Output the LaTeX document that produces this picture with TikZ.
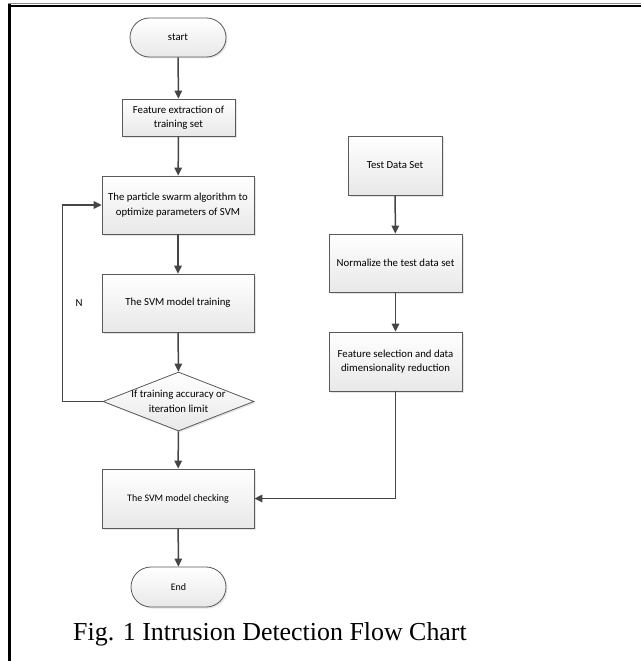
\documentclass[tikz,border=0pt]{standalone}
\usepackage{fontspec}
\setmainfont{Carlito}
\newfontfamily\capfont{Liberation Serif}
\usetikzlibrary{shapes.geometric,shadows,arrows.meta}
\definecolor{edgegray}{HTML}{5A5A5A}
\definecolor{arrowgray}{HTML}{454545}
\begin{document}
\begin{tikzpicture}[x=1bp,y=-1bp,
  boxbase/.style={draw=edgegray, line width=0.8bp, top color=white, bottom color=black!9,
     drop shadow={opacity=0.2, shadow xshift=1.5bp, shadow yshift=-1.5bp},
     align=center, inner sep=2bp, font=\fontsize{10.8}{14.5}\selectfont},
  procbox/.style={boxbase, rectangle},
  termbox/.style={boxbase, rectangle, rounded corners=19.5bp, minimum width=96bp, minimum height=39bp},
  decbox/.style={boxbase, diamond, inner sep=0bp, minimum width=151bp, minimum height=59bp},
  txt/.style={align=center, inner sep=0bp, font=\fontsize{10.8}{14.5}\selectfont},
  flow/.style={draw=arrowgray, line width=1.5bp, -{Triangle[length=8bp,width=7.5bp]}}
]
\useasboundingbox (0,0) rectangle (641,661);
\fill[white] (0,0) rectangle (641,661);
% frame
\draw[black!45, line width=1bp] (8,4) -- (641,4);
\draw[black, line width=1.8bp] (8,5.8) -- (641,5.8);
\draw[black, line width=3bp] (9.5,4) -- (9.5,661);

\node[termbox] (start) at (178,37.5) {start};
\node[procbox, minimum width=113bp, minimum height=37bp] (fe) at (178.5,117.5) {Feature extraction of\\training set};
\node[procbox, minimum width=152bp, minimum height=58bp] (pso) at (178,205) {The particle swarm algorithm to\\optimize parameters of SVM};
\node[procbox, minimum width=152bp, minimum height=58bp] (svm) at (178,303) {The SVM model training};
\node[decbox] (dia) at (178.5,401.5) {};
\node[txt] (diatext) at (dia.center) {If training accuracy or\\iteration limit};
\node[procbox, minimum width=152bp, minimum height=59bp, font=\fontsize{10}{12}\selectfont] (chk) at (178,498.5) {The SVM model checking};
\node[termbox, minimum width=95bp, minimum height=40bp, rounded corners=20bp, font=\fontsize{10}{12}\selectfont] (end) at (178.5,587) {End};

\node[procbox, minimum width=94bp, minimum height=59bp] (test) at (395,165.5) {Test Data Set};
\node[procbox, minimum width=133bp, minimum height=58bp] (norm) at (395.5,263) {Normalize the test data set};
\node[procbox, minimum width=133bp, minimum height=59bp] (fsel) at (395.5,361.5) {Feature selection and data\\dimensionality reduction};

\node[font=\fontsize{10.8}{12}\selectfont] (nlab) at (79,303) {N};

\node[font=\capfont\fontsize{26}{30}\selectfont, anchor=base] (cap) at (270,640) {Fig. 1 Intrusion Detection Flow Chart};

\draw[flow] (start) -- (fe);
\draw[flow] (fe) -- (pso);
\draw[flow] (pso) -- (svm);
\draw[flow] (svm) -- (dia);
\draw[flow] (dia) -- (chk);
\draw[flow] (chk) -- (end);
\draw[flow] (test) -- (norm);
\draw[flow] (norm) -- (fsel);
\draw[flow] (fsel.south) |- (chk.east);
\draw[flow] (dia.west) -- ++(-40,0) |- (pso.west);
\end{tikzpicture}
\end{document}
